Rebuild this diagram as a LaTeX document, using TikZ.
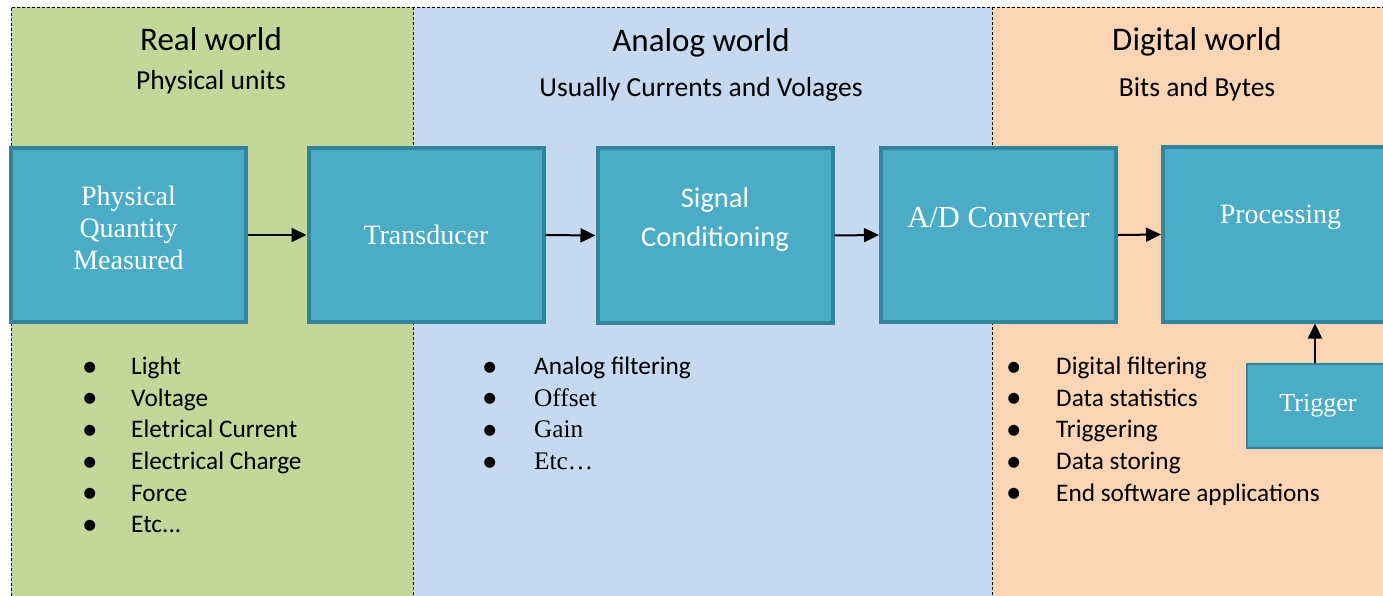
\documentclass[tikz,border=0pt]{standalone}
\usepackage{fontspec}
\setmainfont{Liberation Serif}
\newfontfamily\califont{Carlito}
\usetikzlibrary{arrows.meta}
\definecolor{realbg}{HTML}{C4D79B}
\definecolor{analogbg}{HTML}{C6D9F1}
\definecolor{digitbg}{HTML}{FCD5B4}
\definecolor{unitfill}{HTML}{4BACC6}
\definecolor{unitedge}{HTML}{31849B}
\newcommand\itm[1]{\makebox[#1][l]{\raisebox{-1.5pt}{\fontsize{31}{31}\selectfont\textbullet}}}
\begin{document}
\begin{tikzpicture}[x=1pt,y=-1pt,>={Triangle[length=15pt,width=14pt]},
    unit/.style={draw=unitedge,line width=4pt,fill=unitfill,minimum width=235pt,minimum height=174pt,inner sep=0pt},
    unittext/.style={text=white,align=center,inner sep=0pt,font=\fontsize{28}{32}\selectfont},
    title/.style={anchor=base,font=\califont\fontsize{33}{38}\selectfont},
    subtitle/.style={anchor=base,font=\califont\fontsize{27.5}{32}\selectfont},
    items/.style={anchor=north west,align=left,inner sep=0pt,font=\califont\fontsize{25.3}{31.6}\selectfont},
    dashline/.style={line width=0.8pt,dash pattern=on 3pt off 2pt},
    flow/.style={->,line width=2pt}]
    \path[use as bounding box,clip](0,0) rectangle (1383,596);
    \fill[white](0,0) rectangle (1383,596);
    \fill[realbg](11,7) rectangle (413,596);
    \fill[analogbg](413,7) rectangle (992,596);
    \fill[digitbg](992,7) rectangle (1383,596);
    \draw[dashline](11,596)--(11,7)--(1383,7);
    \draw[dashline](413,7)--(413,596);
    \draw[dashline](992,7)--(992,596);
    % headings
    \node[title] (realt) at (211,51){Real world};
    \node[subtitle] (realst) at (211,90){Physical units};
    \node[title] (analogt) at (701,52){Analog world};
    \node[subtitle] (analogst) at (701,97){Usually Currents and Volages};
    \node[title] (digitt) at (1197,51){Digital world};
    \node[subtitle] (digitst) at (1197,97){Bits and Bytes};
    % chain
    \node[unit] (pq) at (128.5,235){};
    \node[unit] (trans) at (426,235){};
    \node[unit] (cond) at (715,235.5){};
    \node[unit] (adc) at (998.5,235){};
    \node[unit] (proc) at (1280.5,234.5){};
    \node[unit,line width=2pt,minimum width=142pt,minimum height=84pt] (trig) at (1318,406){};
    \node[unittext] (pqt) at ([yshift=7pt]pq.center){Physical\\Quantity\\Measured};
    \node[unittext] (transt) at (trans.center){Transducer};
    \node[unittext,font=\califont\fontsize{28.5}{39}\selectfont] (condt) at ([yshift=16pt]cond.center){Signal\\Conditioning};
    \node[unittext,font=\fontsize{30.5}{34}\selectfont] (adct) at ([yshift=17pt]adc.center){A/D Converter};
    \node[unittext] (proct) at ([yshift=17pt]proc.center){Processing};
    \node[unittext,font=\fontsize{26}{30}\selectfont] (trigt) at (trig.center){Trigger};
    \draw[flow](pq.east)--(trans.west);
    \draw[flow](trans.east)--(cond.west);
    \draw[flow](cond.east)--(adc.west);
    \draw[flow](adc.east)--(proc.west);
    \draw[flow]([xshift=-3pt]trig.north)--([xshift=-3pt]trig.north |- proc.south);
    % lists
    \node[items] (reall) at (82,357){\itm{49pt}Light\\\itm{49pt}Voltage\\\itm{49pt}Eletrical Current\\
        \itm{49pt}Electrical Charge\\\itm{49pt}Force\\\itm{49pt}Etc...};
    \node[items] (analogl) at (482,357){\itm{52pt}Analog filtering\\\itm{52pt}{\rmfamily Offset}\\
        \itm{52pt}{\rmfamily Gain}\\\itm{52pt}{\rmfamily Etc\dots}};
    \node[items] (digitl) at (1006,357){\itm{50pt}Digital filtering\\\itm{50pt}Data statistics\\
        \itm{50pt}Triggering\\\itm{50pt}Data storing\\\itm{50pt}End software applications};
\end{tikzpicture}
\end{document}
